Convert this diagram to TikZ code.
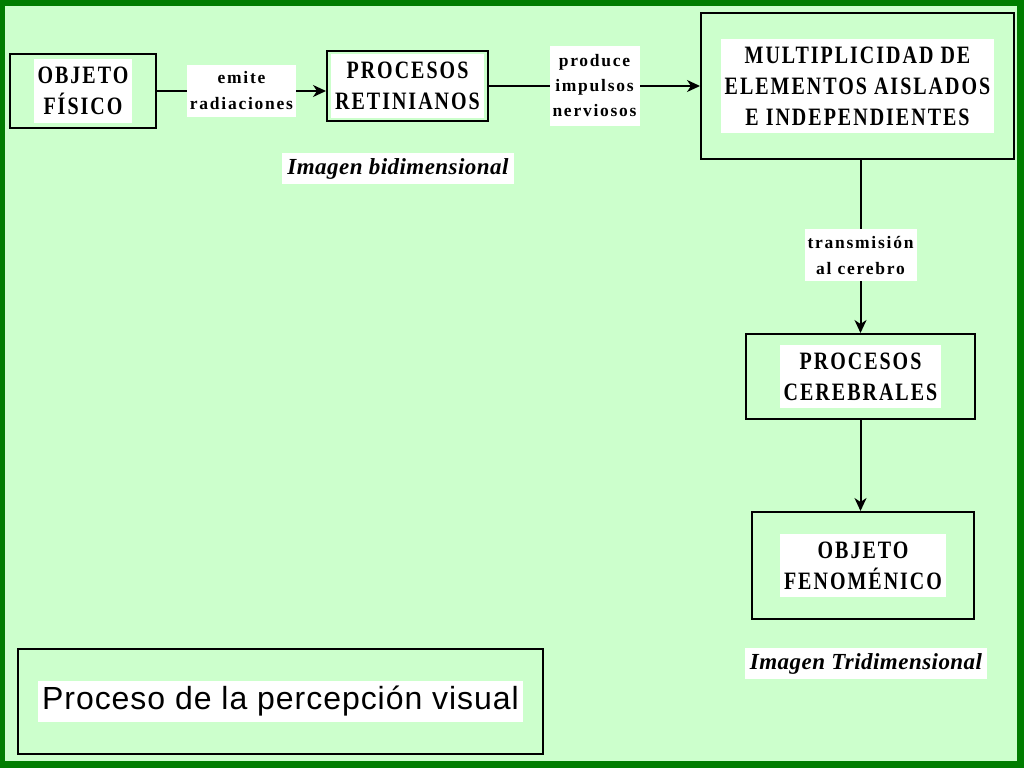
\documentclass[tikz,border=0pt]{standalone}
\usepackage{fontspec}
\usepackage{xcolor}
\usetikzlibrary{arrows.meta}
\usetikzlibrary{positioning, calc}
\setmainfont{Liberation Serif}
\newfontfamily\cajafont[LetterSpace=8,FakeStretch=0.8]{Liberation Serif}
\newfontfamily\etiqfont[LetterSpace=10]{Liberation Serif}
\newfontfamily\imagenfont[LetterSpace=2]{Liberation Serif}
\newfontfamily\titulofont[LetterSpace=3]{Liberation Sans}
\definecolor{borde}{RGB}{0,125,0}
\definecolor{fondo}{RGB}{204,255,204}

\begin{document}
\begin{tikzpicture}[x=1pt, y=-1pt,
    marco/.style={draw, line width=2pt, inner sep=0pt},
    caja/.style={fill=white, align=center, inner xsep=4pt, inner ysep=8pt,
        font=\cajafont\bfseries\fontsize{25}{31}\selectfont},
    etiqueta/.style={fill=white, align=center, inner xsep=3pt, inner ysep=7pt,
        font=\etiqfont\bfseries\fontsize{17.5}{26}\selectfont},
    imagen/.style={fill=white, inner xsep=5pt, inner ysep=5pt,
        font=\imagenfont\bfseries\itshape\fontsize{23}{28}\selectfont},
    titulo/.style={fill=white, inner xsep=4pt, inner ysep=5pt,
        font=\titulofont\fontsize{32}{38}\selectfont},
    flecha/.style={line width=2pt, -{Stealth[length=13pt, width=12pt, inset=4pt]}}]

    \useasboundingbox (0,0) rectangle (1024,768);
    \fill[borde] (0,0) rectangle (1024,768);
    \fill[fondo] (5,6) rectangle (1017,761);

    % FRAMES OF THE BOXES
    \foreach \x/\y/\w/\h/\n in {
        83/91/146/74/fisicoBox,
        407.5/86/161/70/retinianosBox,
        857.5/86/313/146/multiBox,
        860.5/376.5/229/85/cerebralesBox,
        863/565.5/222/107/fenomenicoBox,
        280.5/701.5/525/105/tituloBox}
        \node[marco, minimum width=\w, minimum height=\h] (\n) at (\x,\y) {};

    \node[caja] (fisico) at (fisicoBox) {OBJETO\\FÍSICO};
    \node[caja] (retinianos) at (retinianosBox) {PROCESOS\\RETINIANOS};
    \node[caja] (multi) at (multiBox) {MULTIPLICIDAD DE\\ELEMENTOS AISLADOS\\E INDEPENDIENTES};
    \node[caja] (cerebrales) at (cerebralesBox) {PROCESOS\\CEREBRALES};
    \node[caja] (fenomenico) at (fenomenicoBox) {OBJETO\\FENOMÉNICO};
    \node[titulo] (titulo) at (tituloBox) {Proceso de la percepción visual};

    \node[imagen] (bidim) at (398,168.5) {Imagen bidimensional};
    \node[imagen] (tridim) at (866,663.5) {Imagen Tridimensional};

    % CONNECTORS
    \draw[flecha] (fisicoBox.east) -- (retinianosBox.west |- fisicoBox.east)
        node[etiqueta, midway] (emite) {emite\\radiaciones};
    \draw[flecha] (retinianosBox.east) -- (multiBox.west)
        node[etiqueta, midway, inner ysep=9pt] (produce) {produce\\[-1pt]impulsos\\[-1pt]nerviosos};
    \draw[flecha] (cerebralesBox.north |- multiBox.south) -- (cerebralesBox.north)
        node[etiqueta, pos=0.55] (transmision) {transmisión\\al cerebro};
    \draw[flecha] (cerebralesBox.south) -- (cerebralesBox.south |- fenomenicoBox.north);

\end{tikzpicture}
\end{document}
